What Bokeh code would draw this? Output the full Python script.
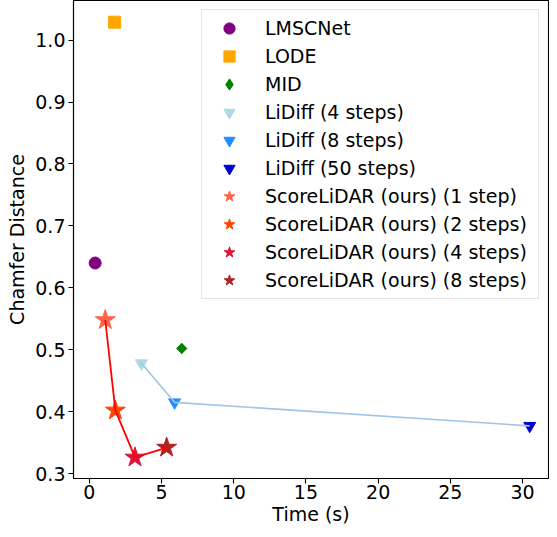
import numpy as np
from bokeh.plotting import figure
from bokeh.models import Legend, LegendItem, FixedTicker, Range1d
from bokeh.embed import file_html
from bokeh.resources import INLINE

# ---- data ----
methods = ["LMSCNet", "LODE", "MID",
           "LiDiff (4 steps)", "LiDiff (8 steps)", "LiDiff (50 steps)",
           "ScoreLiDAR (ours) (1 step)", "ScoreLiDAR (ours) (2 steps)",
           "ScoreLiDAR (ours) (4 steps)", "ScoreLiDAR (ours) (8 steps)"]
times = [0.4, 1.75, 6.4, 3.6, 5.9, 30.5, 1.1, 1.8, 3.16, 5.35]
chamfer = [0.640, 1.029, 0.502, 0.478, 0.415, 0.377, 0.548, 0.402, 0.326, 0.342]
colors = ["purple", "orange", "green", "lightblue", "dodgerblue", "mediumblue",
          "tomato", "orangered", "crimson", "firebrick"]
markers = ["circle", "square", "diamond", "inverted_triangle", "inverted_triangle",
           "inverted_triangle", "star", "star", "star", "star"]
sizes = [12, 12, 10, 12, 12, 12, 21, 21, 21, 21]

lidiff_idx = [3, 4, 5]
score_idx = [6, 7, 8, 9]

x_ticks = [0, 5, 10, 15, 20, 25, 30]
y_ticks = [0.3, 0.4, 0.5, 0.6, 0.7, 0.8, 0.9, 1.0]

FONT = "DejaVu Sans"
FS = "19px"

p = figure(width=549, height=527, output_backend="svg", toolbar_location=None,
           x_range=Range1d(-1.1, 31.8), y_range=Range1d(0.292, 1.064),
           min_border_left=73, min_border_right=1, min_border_top=0,
           min_border_bottom=40)
p.grid.visible = False
p.outline_line_color = "black"
p.outline_line_width = 1.1
p.background_fill_color = "white"
p.border_fill_color = "white"

renderers = []
for i in range(len(methods)):
    r = p.scatter([times[i]], [chamfer[i]], marker=markers[i], size=sizes[i],
                  fill_color=colors[i], line_color=colors[i])
    renderers.append(r)

# matplotlib-style "D" marker: square turned by 45 degrees, drawn over the diamond
p.scatter([times[2]], [chamfer[2]], marker="square", size=7.2, angle=np.pi / 4,
          fill_color=colors[2], line_color=colors[2])

p.line([times[i] for i in lidiff_idx], [chamfer[i] for i in lidiff_idx],
       line_color="#9fc5e8", line_width=1.6)
p.line([times[i] for i in score_idx], [chamfer[i] for i in score_idx],
       line_color="red", line_width=1.8)

for ax in (p.xaxis[0], p.yaxis[0]):
    ax.axis_line_width = 1.1
    ax.major_tick_line_width = 1.1
    ax.major_tick_out = 5
    ax.major_tick_in = 0
    ax.minor_tick_out = 0
    ax.minor_tick_in = 0
    ax.major_label_text_font = FONT
    ax.major_label_text_font_size = FS
    ax.major_label_text_color = "black"
    ax.axis_label_text_font = FONT
    ax.axis_label_text_font_size = FS
    ax.axis_label_text_font_style = "normal"
    ax.axis_label_text_color = "black"
    ax.major_label_standoff = 3

p.xaxis.ticker = FixedTicker(ticks=x_ticks)
p.yaxis.ticker = FixedTicker(ticks=y_ticks)
p.yaxis.major_label_overrides = {v: f"{v:.1f}" for v in y_ticks}
p.xaxis.axis_label = "Time (s)"
p.yaxis.axis_label = "Chamfer Distance"
p.xaxis.major_label_standoff = 1
p.xaxis.axis_label_standoff = 1
p.yaxis.axis_label_standoff = 4

legend = Legend(items=[LegendItem(label=methods[i], renderers=[renderers[i]])
                       for i in range(len(methods))],
                location="top_right")
legend.label_text_font = FONT
legend.label_text_font_size = FS
legend.label_text_color = "black"
legend.glyph_width = 46
legend.glyph_height = 28
legend.label_height = 28
legend.spacing = 0
legend.padding = 4
legend.margin = 9
legend.label_standoff = 13
legend.label_width = 269
legend.border_line_color = "#cccccc"
legend.border_line_width = 1
legend.background_fill_alpha = 0.8
p.add_layout(legend)

open("out.html", "w").write(file_html(p, INLINE))
